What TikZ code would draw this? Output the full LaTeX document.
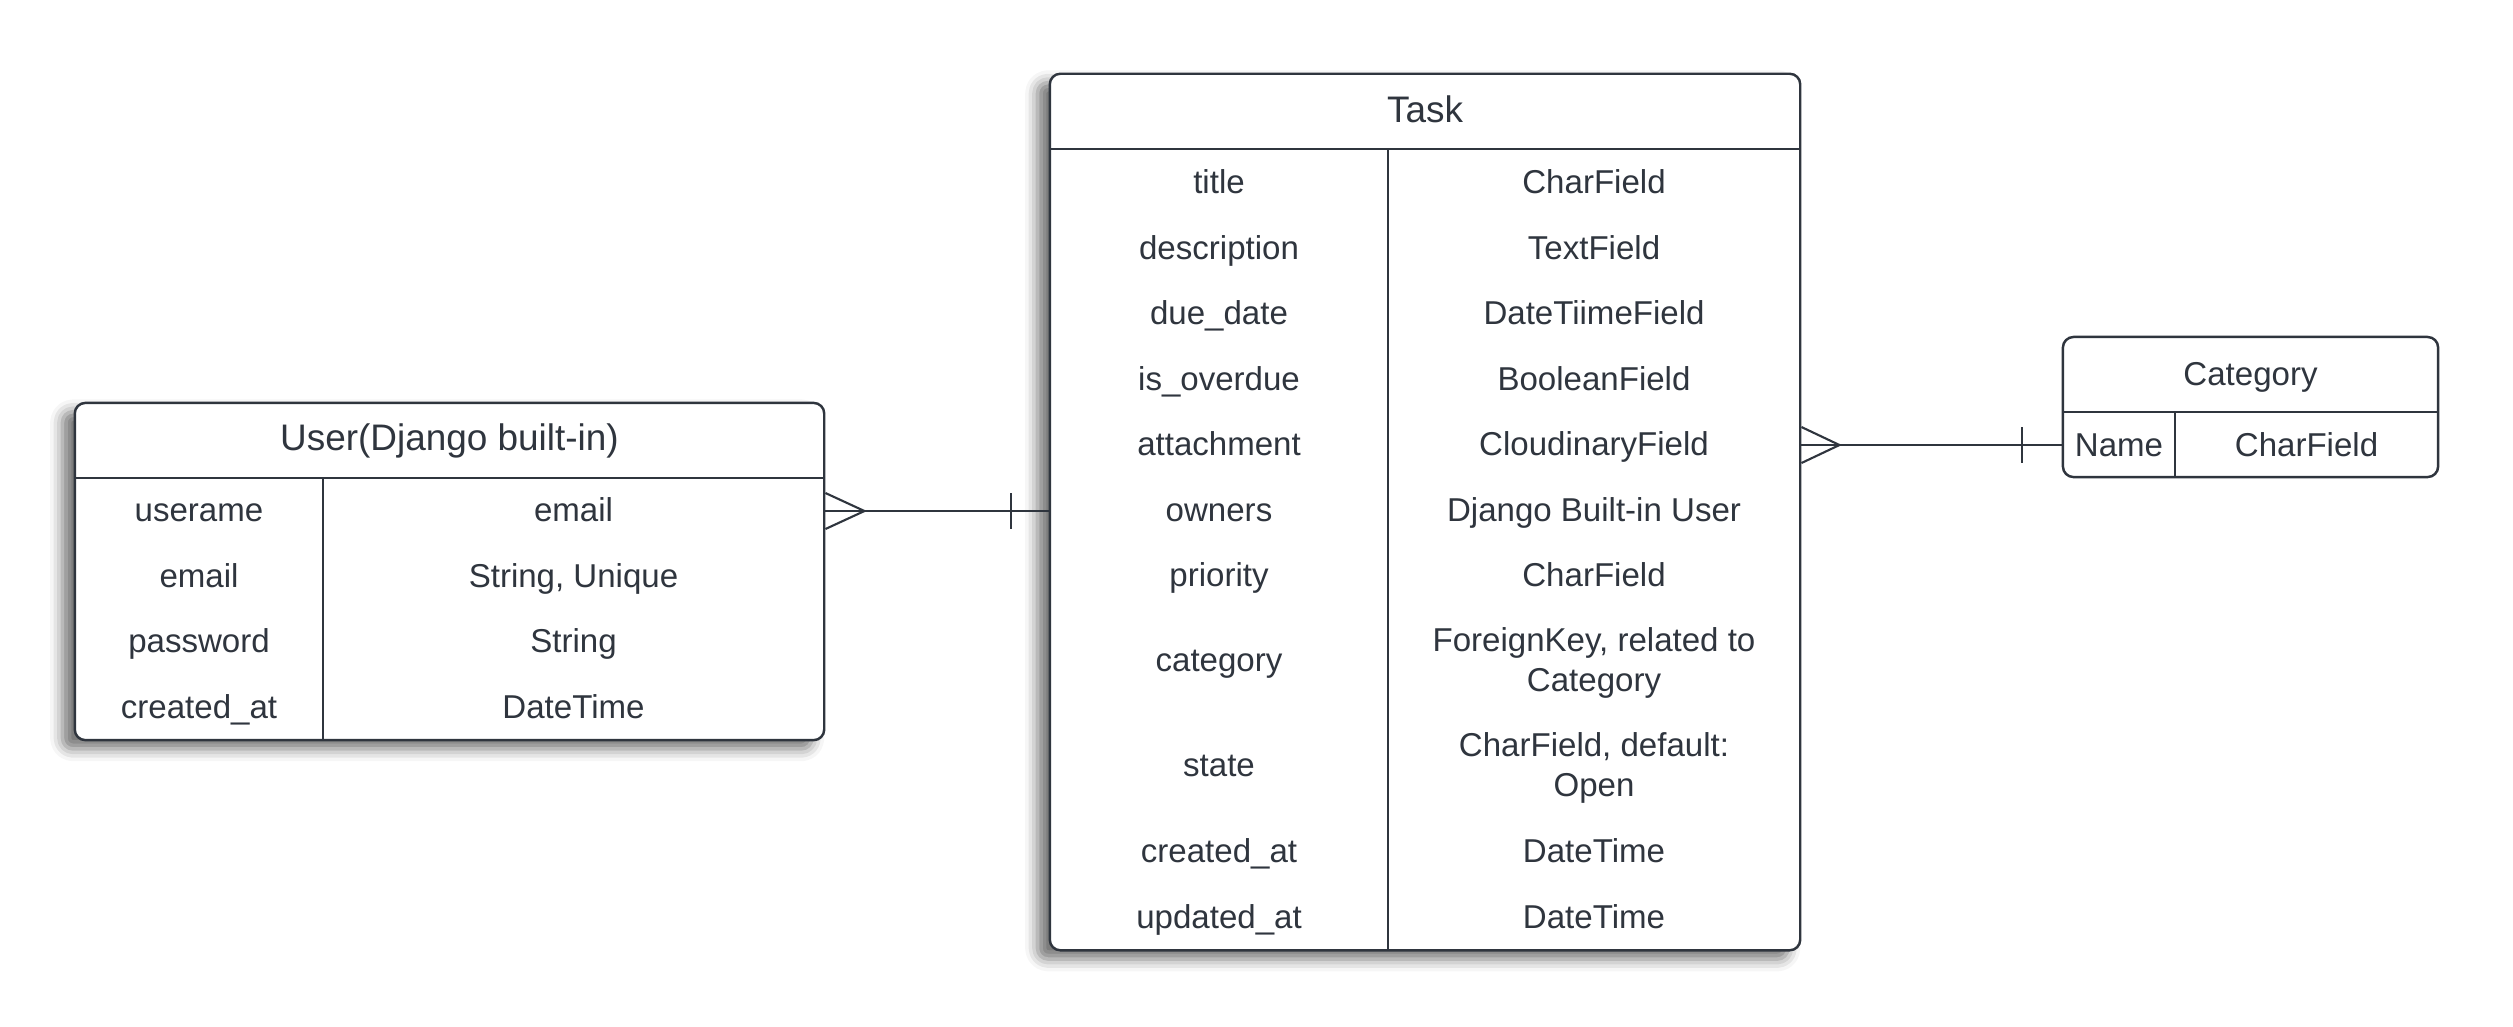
\documentclass[tikz,border=0pt]{standalone}
\usepackage{fontspec}
\setmainfont{Liberation Sans}
\usetikzlibrary{shadows.blur}
\definecolor{ink}{HTML}{2F353E}
\begin{document}
\begin{tikzpicture}[x=0.01cm, y=-0.01cm, color=ink, line width=0.6pt,
  ent/.style={draw, fill=white, rounded corners=3pt, inner sep=0pt, line width=0.7pt},
  shd/.style={blur shadow={shadow xshift=-3.5pt, shadow yshift=-2.5pt, shadow blur radius=3.5pt, shadow opacity=55}},
  fld/.style={align=center, inner sep=0pt, font=\fontsize{9.4pt}{11.4pt}\selectfont, text height=7.3pt, text depth=0.6pt},
  fld2/.style={fld, text height=18.7pt},
  ttl/.style={align=center, inner sep=0pt, font=\fontsize{10.5pt}{12.6pt}\selectfont, text height=8.2pt, text depth=0.6pt}]
\useasboundingbox (0,0) rectangle (2513,1026);
\node[ent, shd, minimum width=7.49cm, minimum height=3.37cm] (usr) at (449.5,571.5){};
\node[ent, shd, minimum width=7.5cm, minimum height=8.76cm] (tsk) at (1425,512){};
\node[ent, minimum width=3.75cm, minimum height=1.4cm] (cat) at (2250.5,407){};
\draw[](75,478) -- (824,478);
\draw[](323,478) -- (323,740);
\draw[](1050,149) -- (1800,149);
\draw[](1388,149) -- (1388,950);
\draw[](2063,412) -- (2438,412);
\draw[](2175,412) -- (2175,477);
\node[ttl] (usr0) at (449.5,437){User(Django built-in)};
\node[fld] (usr1) at (199,510){userame};
\node[fld] (usr2) at (573.5,510){email};
\node[fld] (usr3) at (199,575.5){email};
\node[fld] (usr4) at (573.5,575.5){String, Unique};
\node[fld] (usr5) at (199,641){password};
\node[fld] (usr6) at (573.5,641){String};
\node[fld] (usr7) at (199,706.5){created\_at};
\node[fld] (usr8) at (573.5,706.5){DateTime};
\node[ttl] (tsk0) at (1425,109){Task};
\node[fld] (tsk1) at (1219,181.75){title};
\node[fld] (tsk2) at (1594,181.75){CharField};
\node[fld] (tsk3) at (1219,247.25){description};
\node[fld] (tsk4) at (1594,247.25){TextField};
\node[fld] (tsk5) at (1219,312.75){due\_date};
\node[fld] (tsk6) at (1594,312.75){DateTiimeField};
\node[fld] (tsk7) at (1219,378.25){is\_overdue};
\node[fld] (tsk8) at (1594,378.25){BooleanField};
\node[fld] (tsk9) at (1219,443.75){attachment};
\node[fld] (tsk10) at (1594,443.75){CloudinaryField};
\node[fld] (tsk11) at (1219,509.25){owners};
\node[fld] (tsk12) at (1594,509.25){Django Built-in User};
\node[fld] (tsk13) at (1219,574.75){priority};
\node[fld] (tsk14) at (1594,574.75){CharField};
\node[fld] (tsk15) at (1219,660){category};
\node[fld2] (tsk16) at (1594,660){ForeignKey, related to\\Category};
\node[fld] (tsk17) at (1219,765){state};
\node[fld2] (tsk18) at (1594,765){CharField, default:\\Open};
\node[fld] (tsk19) at (1219,850.5){created\_at};
\node[fld] (tsk20) at (1594,850.5){DateTime};
\node[fld] (tsk21) at (1219,916.75){updated\_at};
\node[fld] (tsk22) at (1594,916.75){DateTime};
\node[fld] (cat0) at (2250.5,373.5){Category};
\node[fld] (cat1) at (2119,444.5){Name};
\node[fld] (cat2) at (2306.5,444.5){CharField};
\coordinate (j0) at (937,511);
\coordinate (j1) at (1931,445);
\draw[](usr.east |- j0) -- (tsk.west |- j0);
\draw[](usr.east |- j0) ++(0,-18) -- ++(39,18) -- ++(-39,18);
\draw[](tsk.west |- j0) ++(-38,-18) -- ++(0,36);
\draw[](tsk.east |- j1) -- (cat.west |- j1);
\draw[](tsk.east |- j1) ++(0,-18) -- ++(38,18) -- ++(-38,18);
\draw[](cat.west |- j1) ++(-40,-18) -- ++(0,36);
\end{tikzpicture}
\end{document}
